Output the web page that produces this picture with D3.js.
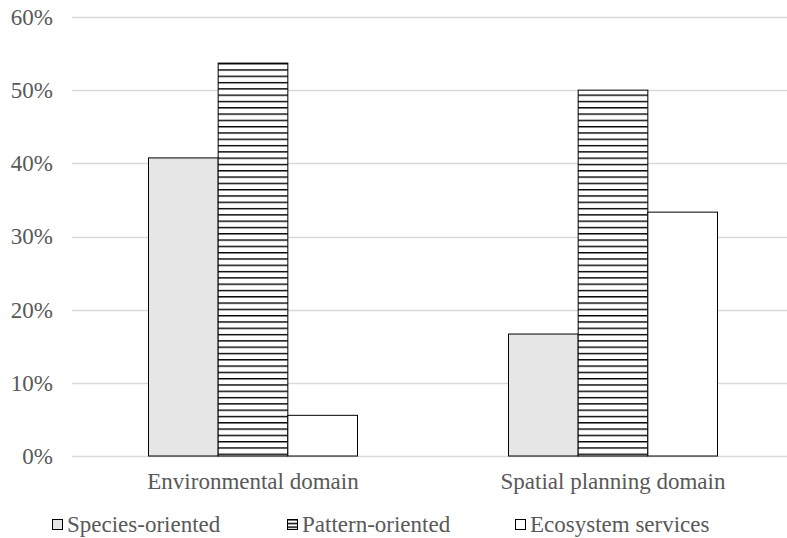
<!DOCTYPE html>
<html>
<head>
<meta charset="utf-8">
<script src="https://cdn.jsdelivr.net/npm/d3@7"></script>
<style>
  html, body { margin: 0; padding: 0; background: #fff; }
  svg { display: block; }
</style>
</head>
<body>
<svg id="chart" width="787" height="538"></svg>
<script>
// Share of studies per approach, by domain
const domains = ["Environmental domain", "Spatial planning domain"];
const seriesNames = ["Species-oriented", "Pattern-oriented", "Ecosystem services"];
const speciesOriented = [40.74, 16.67];
const patternOriented = [53.70, 50.00];
const ecosystemServices = [5.56, 33.33];
const yTicks = [0, 10, 20, 30, 40, 50, 60];

const seriesValues = [speciesOriented, patternOriented, ecosystemServices];

const FONT = "Liberation Serif";
const TEXT_COLOR = "#595959";
const FONT_SIZE = 23;

const svg = d3.select("#chart");
const W = 787;
const plot = { left: 73, right: 793, top: 17, bottom: 456 };

// Horizontal hatch for the pattern-oriented series
const defs = svg.append("defs");
const pat = defs.append("pattern")
  .attr("id", "hatch")
  .attr("patternUnits", "userSpaceOnUse")
  .attr("width", 8).attr("height", 6.3);
pat.append("rect").attr("width", 8).attr("height", 6.3).attr("fill", "#fff");
pat.append("rect").attr("y", 0).attr("width", 8).attr("height", 1.4).attr("fill", "#000");

const legendPat = defs.append("pattern")
  .attr("id", "hatch-small")
  .attr("patternUnits", "userSpaceOnUse")
  .attr("x", 0).attr("y", 519)
  .attr("width", 4).attr("height", 3.7);
legendPat.append("rect").attr("width", 4).attr("height", 3.7).attr("fill", "#fff");
legendPat.append("rect").attr("width", 4).attr("height", 1.5).attr("fill", "#000");

const fills = ["#e6e6e6", "url(#hatch)", "#ffffff"];
const legendFills = ["#e6e6e6", "url(#hatch-small)", "#ffffff"];

const x0 = d3.scaleBand().domain(domains).range([plot.left, plot.right]);
const groupWidth = 209;
const x1 = d3.scaleBand().domain(seriesNames).range([0, groupWidth]);
const y = d3.scaleLinear().domain([0, 60]).range([plot.bottom, plot.top]);

// Gridlines
svg.append("g").selectAll("line").data(yTicks).join("line")
  .attr("x1", 72).attr("x2", W)
  .attr("y1", d => Math.round(y(d)) + 0.5).attr("y2", d => Math.round(y(d)) + 0.5)
  .attr("stroke", "#d9d9d9").attr("stroke-width", 1.5);

// Y axis labels
const yAxis = d3.axisLeft(y).tickValues(yTicks).tickFormat(d => d + "%").tickSize(0).tickPadding(0);
const yG = svg.append("g").attr("transform", "translate(53,0)").call(yAxis)
  .attr("font-family", FONT).attr("font-size", FONT_SIZE);
yG.select(".domain").remove();
yG.selectAll("text").attr("fill", TEXT_COLOR);

// Bars
const groups = svg.append("g").selectAll("g").data(domains).join("g")
  .attr("transform", d => `translate(${x0(d) + (x0.bandwidth() - groupWidth) / 2},0)`);

groups.selectAll("rect")
  .data((d, i) => seriesNames.map((s, j) => ({ s, j, v: seriesValues[j][i] })))
  .join("rect")
  .attr("x", d => x1(d.s))
  .attr("width", x1.bandwidth())
  .attr("y", d => y(d.v))
  .attr("height", d => y(0) - y(d.v))
  .attr("fill", d => fills[d.j])
  .attr("stroke", "#000")
  .attr("stroke-width", 1);

// Category labels
const xAxis = d3.axisBottom(x0).tickSize(0).tickPadding(0);
const xG = svg.append("g").attr("transform", "translate(0,489)").call(xAxis)
  .attr("font-family", FONT).attr("font-size", FONT_SIZE);
xG.select(".domain").remove();
xG.selectAll("text").attr("dy", 0).attr("fill", TEXT_COLOR);

// Legend
const legendX = [52, 287, 515];
const legend = svg.append("g").selectAll("g").data(seriesNames).join("g")
  .attr("transform", (d, i) => `translate(${legendX[i]},0)`);
legend.append("rect")
  .attr("x", 0.5).attr("y", 519.5).attr("width", 10).attr("height", 10)
  .attr("fill", (d, i) => legendFills[i])
  .attr("stroke", "#000").attr("stroke-width", 1);
legend.append("text")
  .attr("x", 15).attr("y", 532)
  .attr("font-family", FONT)
  .attr("font-size", FONT_SIZE)
  .attr("fill", TEXT_COLOR)
  .text(d => d);
</script>
</body>
</html>
